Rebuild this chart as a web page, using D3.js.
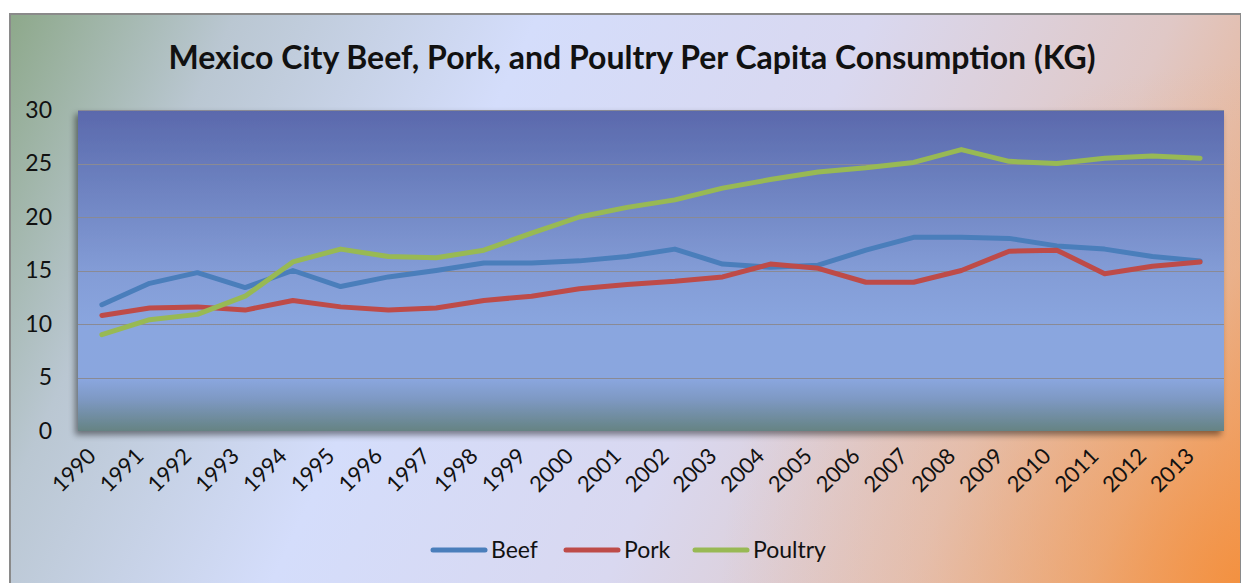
<!DOCTYPE html>
<html>
<head>
<meta charset="utf-8">
<script src="https://cdn.jsdelivr.net/npm/d3@7"></script>
<style>
  body { margin: 0; background: #ffffff; }
  svg { display: block; font-family: Lato, "Open Sans", sans-serif; }
</style>
</head>
<body>
<svg id="chart"></svg>
<script>
// Per capita consumption in Mexico City, kilograms
const years = ["1990", "1991", "1992", "1993", "1994", "1995", "1996", "1997", "1998", "1999", "2000", "2001",
  "2002", "2003", "2004", "2005", "2006", "2007", "2008", "2009", "2010", "2011", "2012", "2013"];
const beef = [11.8, 13.8, 14.8, 13.4, 15.0, 13.5, 14.4, 15.0, 15.7, 15.7, 15.9, 16.3,
  17.0, 15.6, 15.3, 15.5, 16.9, 18.1, 18.1, 18.0, 17.3, 17.0, 16.3, 15.9];
const pork = [10.8, 11.5, 11.6, 11.3, 12.2, 11.6, 11.3, 11.5, 12.2, 12.6, 13.3, 13.7,
  14.0, 14.4, 15.6, 15.2, 13.9, 13.9, 15.0, 16.8, 16.9, 14.7, 15.4, 15.8];
const poultry = [9.0, 10.4, 10.9, 12.6, 15.8, 17.0, 16.3, 16.2, 16.9, 18.5, 20.0, 20.9,
  21.6, 22.7, 23.5, 24.2, 24.6, 25.1, 26.3, 25.2, 25.0, 25.5, 25.7, 25.5];
const seriesNames = ["Beef", "Pork", "Poultry"];
const yTicks = [0, 5, 10, 15, 20, 25, 30];

const width = 1241;
const height = 583;
const plot = { left: 78, right: 1224, top: 110, bottom: 431 };

const svg = d3.select("#chart")
  .attr("width", width)
  .attr("height", height);

const defs = svg.append("defs");

// chart area background: diagonal gradient, green-grey -> pale blue -> orange
const bg = defs.append("linearGradient")
  .attr("id", "bg")
  .attr("gradientUnits", "userSpaceOnUse")
  .attr("x1", 0).attr("y1", 0)
  .attr("x2", width).attr("y2", height);
[[0, "#8aa685"], [0.16, "#bac7d2"], [0.36, "#d4ddfb"], [0.58, "#d9d8f0"],
 [0.78, "#e0c8c6"], [0.9, "#e8b494"], [1, "#f49148"]].forEach(s => {
  bg.append("stop").attr("offset", s[0]).attr("stop-color", s[1]);
});

const glow = defs.append("radialGradient")
  .attr("id", "glow")
  .attr("gradientUnits", "userSpaceOnUse")
  .attr("cx", width).attr("cy", height).attr("r", 520);
glow.append("stop").attr("offset", 0).attr("stop-color", "#f3913f").attr("stop-opacity", 0.85);
glow.append("stop").attr("offset", 0.6).attr("stop-color", "#eeaa78").attr("stop-opacity", 0.35);
glow.append("stop").attr("offset", 1).attr("stop-color", "#eeaa78").attr("stop-opacity", 0);

// plot area gradient, dark blue at the top, grey-teal at the floor
const plotFill = defs.append("linearGradient")
  .attr("id", "plotFill")
  .attr("x1", 0).attr("y1", 0).attr("x2", 0).attr("y2", 1);
[[0, "#5a68ac"], [0.2, "#6a7ebd"], [0.5, "#839cd6"], [0.68, "#8aa6df"],
 [0.84, "#8aa6de"], [0.9, "#7e99c4"], [1, "#658383"]].forEach(s => {
  plotFill.append("stop").attr("offset", s[0]).attr("stop-color", s[1]);
});

const shadow = defs.append("filter")
  .attr("id", "shadow")
  .attr("x", "-5%").attr("y", "-5%").attr("width", "110%").attr("height", "115%");
shadow.append("feDropShadow")
  .attr("dx", -3).attr("dy", 4)
  .attr("stdDeviation", 3)
  .attr("flood-color", "#000")
  .attr("flood-opacity", 0.45);

// outer frame
svg.append("rect")
  .attr("x", 10).attr("y", 14)
  .attr("width", width - 10).attr("height", height)
  .attr("fill", "url(#bg)");
svg.append("rect")
  .attr("x", 10).attr("y", 14)
  .attr("width", width - 10).attr("height", height)
  .attr("fill", "url(#glow)");
svg.append("rect")
  .attr("x", 10).attr("y", 14)
  .attr("width", width - 10).attr("height", height)
  .attr("fill", "none")
  .attr("stroke", "#8a8a8a")
  .attr("stroke-width", 2);

// title
svg.append("text")
  .attr("x", 632)
  .attr("y", 69)
  .attr("text-anchor", "middle")
  .style("font-size", "32px")
  .style("font-weight", "bold")
  .attr("fill", "#111")
  .text("Mexico City Beef, Pork, and Poultry Per Capita Consumption (KG)");

// scales
const x = d3.scaleBand()
  .domain(years)
  .range([plot.left, plot.right]);
const cx = d => x(d) + x.bandwidth() / 2;

const y = d3.scaleLinear()
  .domain([0, 30])
  .range([plot.bottom, plot.top]);

// plot area
svg.append("rect")
  .attr("x", plot.left)
  .attr("y", plot.top)
  .attr("width", plot.right - plot.left)
  .attr("height", plot.bottom - plot.top)
  .attr("fill", "url(#plotFill)")
  .attr("filter", "url(#shadow)");

// gridlines
svg.append("g")
  .selectAll("line")
  .data(yTicks.filter(t => t > 0))
  .enter().append("line")
  .attr("x1", plot.left).attr("x2", plot.right)
  .attr("y1", d => Math.round(y(d)) + 0.5)
  .attr("y2", d => Math.round(y(d)) + 0.5)
  .attr("stroke", "#8a8a94")
  .attr("stroke-width", 1);

// y axis labels
const yAxis = svg.append("g")
  .attr("transform", `translate(${plot.left},0)`)
  .call(d3.axisLeft(y).tickValues(yTicks).tickSize(0).tickPadding(26));
yAxis.select(".domain").remove();
yAxis.selectAll("text")
  .style("font-family", "Lato, sans-serif")
  .style("font-size", "23px")
  .attr("fill", "#111");

// x axis labels, rotated
const xAxis = svg.append("g")
  .attr("transform", `translate(0,${plot.bottom})`)
  .call(d3.axisBottom(x).tickSize(0).tickPadding(0));
xAxis.select(".domain").remove();
xAxis.selectAll("text")
  .style("font-family", "Lato, sans-serif")
  .style("font-size", "22px")
  .attr("fill", "#111")
  .attr("text-anchor", "end")
  .attr("dy", "0.35em")
  .attr("transform", "translate(-10,21) rotate(-45)");

// lines
const colors = { Beef: "#4a7ebb", Pork: "#be4b48", Poultry: "#98b954" };
const values = { Beef: beef, Pork: pork, Poultry: poultry };

const line = d3.line()
  .x((d, i) => cx(years[i]))
  .y(d => y(d));

svg.append("g")
  .selectAll("path")
  .data(seriesNames)
  .enter().append("path")
  .attr("d", d => line(values[d]))
  .attr("fill", "none")
  .attr("stroke", d => colors[d])
  .attr("stroke-width", 5)
  .attr("stroke-linejoin", "round")
  .attr("stroke-linecap", "round");

// legend
const legendX = [433, 566, 695];
const legend = svg.selectAll(".legend")
  .data(seriesNames)
  .enter().append("g")
  .attr("class", "legend")
  .attr("transform", (d, i) => `translate(${legendX[i]},550)`);

legend.append("line")
  .attr("x1", 0).attr("x2", 52)
  .attr("stroke", d => colors[d])
  .attr("stroke-width", 5)
  .attr("stroke-linecap", "round");

legend.append("text")
  .attr("x", 58)
  .attr("dy", "0.35em")
  .style("font-size", "23px")
  .attr("fill", "#111")
  .text(d => d);
</script>
</body>
</html>
